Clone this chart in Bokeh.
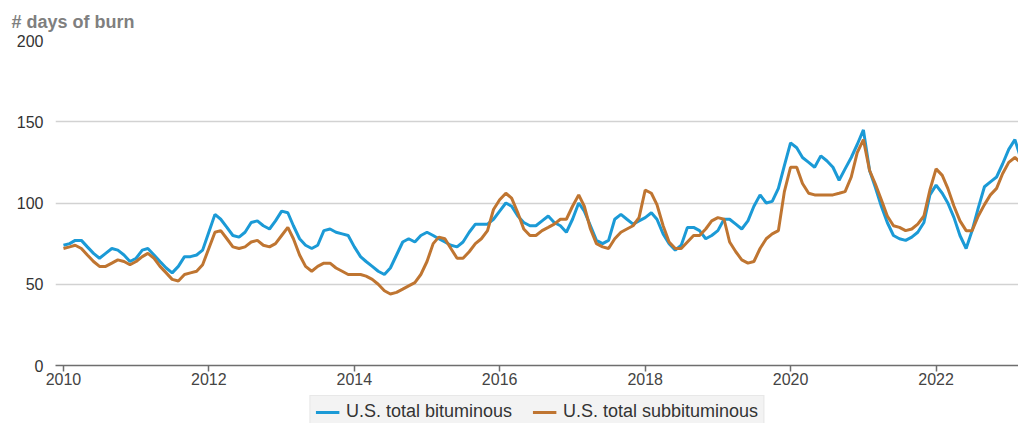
from datetime import datetime
import pandas as pd
from bokeh.plotting import figure
from bokeh.layouts import column
from bokeh.models import Range1d, FixedTicker, DatetimeTickFormatter, Legend, LegendItem, ColumnDataSource
from bokeh.embed import file_html
from bokeh.resources import INLINE

# ---- data (monthly, starting January 2010) ----
start_month = "2010-01-01"
bituminous = [
    74, 75, 77, 77, 73, 69, 66, 69, 72, 71, 68, 64,
    66, 71, 72, 68, 64, 60, 57, 61, 67, 67, 68, 71,
    82, 93, 90, 85, 80, 79, 82, 88, 89, 86, 84, 89,
    95, 94, 86, 78, 74, 72, 74, 83, 84, 82, 81, 80,
    73, 67, 64, 61, 58, 56, 60, 68, 76, 78, 76, 80,
    82, 80, 78, 76, 74, 73, 76, 82, 87, 87, 87, 90,
    95, 100, 98, 92, 88, 86, 86, 89, 92, 88, 86, 82,
    90, 100, 95, 86, 77, 75, 77, 90, 93, 90, 87, 89,
    91, 94, 90, 81, 75, 71, 74, 85, 85, 83, 78, 80,
    83, 90, 90, 87, 84, 89, 98, 105, 100, 101, 109, 123,
    137, 134, 128, 125, 122, 129, 126, 122, 114, 121, 128, 136,
    145, 120, 110, 98, 88, 80, 78, 77, 79, 82, 88, 105,
    111, 106, 100, 91, 80, 72, 83, 97, 110, 113, 116, 124,
    133, 139, 128,
]
subbituminous = [
    72, 73, 74, 72, 68, 64, 61, 61, 63, 65, 64, 62,
    64, 67, 69, 66, 61, 57, 53, 52, 56, 57, 58, 62,
    72, 82, 83, 78, 73, 72, 73, 76, 77, 74, 73, 75,
    80, 85, 78, 68, 61, 58, 61, 63, 63, 60, 58, 56,
    56, 56, 55, 53, 50, 46, 44, 45, 47, 49, 51, 56,
    64, 75, 79, 78, 72, 66, 66, 70, 75, 78, 83, 96,
    102, 106, 103, 94, 84, 80, 80, 83, 85, 87, 90, 90,
    98, 105, 98, 84, 75, 73, 72, 78, 82, 84, 86, 91,
    108, 106, 99, 86, 76, 72, 72, 76, 80, 80, 84, 89,
    91, 90, 76, 70, 65, 63, 64, 72, 78, 81, 83, 107,
    122, 122, 112, 106, 105, 105, 105, 105, 106, 107, 116, 131,
    139, 120, 112, 102, 92, 86, 85, 83, 84, 87, 92, 108,
    121, 117, 109, 98, 89, 83, 83, 92, 99, 105, 109, 118,
    125, 128, 125,
]
series_names = ["U.S. total bituminous", "U.S. total subbituminous"]
series_colors = ["#1b9ad6", "#bf7531"]
y_ticks = [0, 50, 100, 150, 200]
x_tick_years = [2010, 2012, 2014, 2016, 2018, 2020, 2022]
title_text = "# days of burn"

dates = pd.date_range(start_month, periods=len(bituminous), freq="MS")
source = ColumnDataSource(dict(date=dates, bit=bituminous, sub=subbituminous))

FONT = "Liberation Sans"

p = figure(
    width=1018, height=393,
    x_axis_type="datetime",
    x_range=Range1d(datetime(2009, 11, 22), datetime(2023, 2, 19)),
    y_range=Range1d(0, 200),
    output_backend="svg", toolbar_location=None,
    min_border_left=55, min_border_right=0, min_border_top=40, min_border_bottom=28,
    background_fill_color="white", border_fill_color="white",
    outline_line_color=None,
)

p.title.text = title_text
p.title.text_font = FONT
p.title.text_font_size = "18px"
p.title.text_font_style = "bold"
p.title.text_color = "#7f7f7f"
p.title.align = "left"
p.title.offset = -44
p.title.standoff = 18

p.line("date", "bit", source=source, color=series_colors[0], line_width=3)
p.line("date", "sub", source=source, color=series_colors[1], line_width=3)

# axes
xa = p.xaxis[0]
xa.axis_label = None
xa.ticker = FixedTicker(ticks=[datetime(y, 1, 1).timestamp() * 1000 for y in x_tick_years])
xa.formatter = DatetimeTickFormatter(years="%Y", months="%Y", days="%Y")
xa.axis_line_color = "#6e6e6e"
xa.axis_line_width = 1.5
xa.major_tick_line_color = "#6e6e6e"
xa.major_tick_line_width = 1.5
xa.major_tick_out = 6
xa.major_tick_in = 0
xa.minor_tick_line_color = None
xa.major_label_text_font = FONT
xa.major_label_text_font_size = "16px"
xa.major_label_text_color = "#444444"
xa.major_label_standoff = 1

ya = p.yaxis[0]
ya.axis_label = None
ya.ticker = FixedTicker(ticks=y_ticks)
ya.axis_line_color = None
ya.major_tick_line_color = None
ya.major_tick_out = 0
ya.major_tick_in = 0
ya.minor_tick_line_color = None
ya.major_label_text_font = FONT
ya.major_label_text_font_size = "16px"
ya.major_label_text_color = "#333333"
ya.major_label_standoff = 12

p.xgrid.grid_line_color = None
p.ygrid.grid_line_color = "#d2d2d2"
p.ygrid.grid_line_width = 1.5

# ---- legend strip below the chart ----
lf = figure(
    width=1018, height=30,
    x_range=Range1d(0, 1), y_range=Range1d(0, 1),
    output_backend="svg", toolbar_location=None,
    min_border_left=32, min_border_right=0, min_border_top=0, min_border_bottom=0,
    outline_line_color=None, background_fill_color="white", border_fill_color="white",
)
lf.xaxis.visible = False
lf.yaxis.visible = False
lf.grid.visible = False
# legend key lines (kept outside the visible range of the strip)
key_source = ColumnDataSource(dict(x=[-5, -4], y=[-5, -5]))
g1 = lf.line("x", "y", source=key_source, color=series_colors[0], line_width=3)
g2 = lf.line("x", "y", source=key_source, color=series_colors[1], line_width=3)

legend = Legend(
    items=[LegendItem(label=series_names[0], renderers=[g1]),
           LegendItem(label=series_names[1], renderers=[g2])],
    orientation="horizontal", location="top_center",
    label_text_font=FONT, label_text_font_size="18px", label_text_color="#333333",
    background_fill_color="#f3f3f3", background_fill_alpha=1.0,
    border_line_color="#dedede", border_line_width=1,
    glyph_width=24, glyph_height=16, label_height=16, label_standoff=7, spacing=20,
    padding=5, margin=2,
)
lf.add_layout(legend, "center")

layout = column(p, lf, spacing=0)
open("out.html", "w").write(file_html(layout, INLINE))
